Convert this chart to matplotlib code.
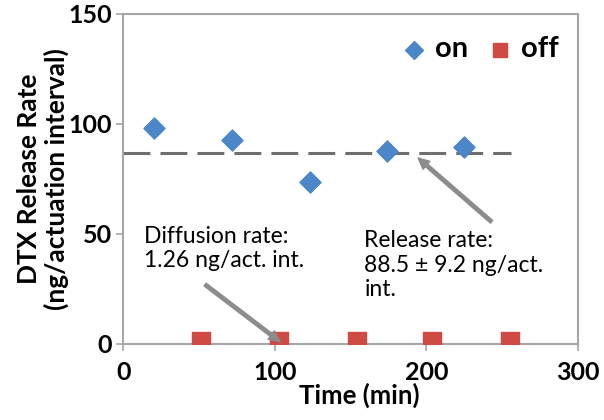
import matplotlib
matplotlib.use("Agg")
import matplotlib.pyplot as plt

plt.rcParams['font.family'] = ['Lato', 'DejaVu Sans']

# Data
on_time = [20, 72, 123, 174, 225]
on_rate = [98, 92.5, 73.5, 87.5, 89.5]
off_time = [51, 103, 154, 204, 255]
off_rate = [1.26, 1.26, 1.26, 1.26, 1.26]
mean_rate = 87
mean_span = [0, 256]

gray = '#a6a6a6'
arrow_style = 'simple,head_width=0.75,head_length=0.8,tail_width=0.25'

fig = plt.figure(figsize=(6.04, 4.2), dpi=100)
ax = fig.add_axes([0.204, 0.181, 0.753, 0.786])

# Mean release line
ax.plot(mean_span, [mean_rate, mean_rate], color='#6e6e6e', lw=2.2,
        dashes=(8.8, 3.3), zorder=2)

# Points
ax.scatter(on_time, on_rate, marker='D', s=115, color='#4a86c8', label='on', zorder=3)
ax.scatter(off_time, off_rate, marker='s', s=150, color='#cf4a43', label='off', zorder=3)

ax.set_xlim(0, 300)
ax.set_ylim(0, 150)
ax.set_xticks([0, 100, 200, 300])
ax.set_yticks([0, 50, 100, 150])
for s in ax.spines.values():
    s.set_color(gray)
    s.set_linewidth(1.5)
ax.tick_params(direction='out', length=5, color=gray, width=1.2,
               labelsize=18, pad=3)
ax.tick_params(axis='x', pad=7)
for lbl in ax.get_xticklabels() + ax.get_yticklabels():
    lbl.set_fontweight('bold')

ax.set_xlabel('Time (min)', fontsize=18.5, fontweight='bold')
ax.xaxis.set_label_coords(0.52, -0.118)
ax.set_ylabel('DTX Release Rate\n(ng/actuation interval)', fontsize=19,
              fontweight='bold', linespacing=1.1)
ax.yaxis.set_label_coords(-0.12, 0.5)

# Annotations
ax.text(14, 33, 'Diffusion rate:\n1.26 ng/act. int.', fontsize=16.5,
        ha='left', va='bottom', linespacing=1.2)
ax.annotate('', xy=(103.5, 1.0), xytext=(54, 27),
            arrowprops=dict(arrowstyle=arrow_style, color='#8c8c8c',
                            shrinkA=0, shrinkB=0))
ax.text(159, 20, 'Release rate:\n88.5 \u00b1 9.2 ng/act.\nint.', fontsize=16.5,
        ha='left', va='bottom', linespacing=1.2)
ax.annotate('', xy=(194.5, 84.5), xytext=(243, 55.5),
            arrowprops=dict(arrowstyle=arrow_style, color='#8c8c8c',
                            shrinkA=0, shrinkB=0))

leg = ax.legend(loc='upper right', ncol=2, frameon=False, fontsize=21,
                handlelength=0.8, handletextpad=0.3, columnspacing=0.7,
                borderaxespad=0.2, markerscale=0.85,
                bbox_to_anchor=(0.995, 0.985))
for t in leg.get_texts():
    t.set_fontweight('bold')

fig.savefig('out.png', dpi=100)
